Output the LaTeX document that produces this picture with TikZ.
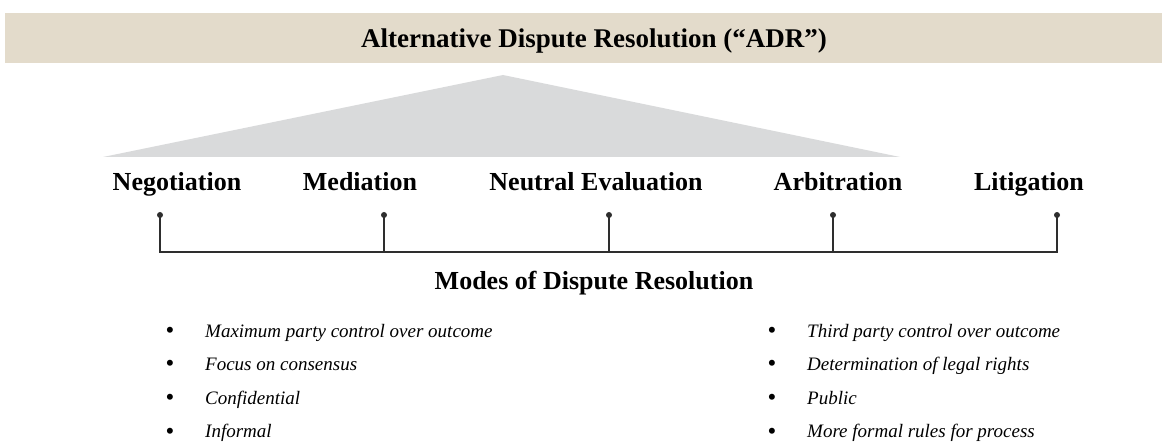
\documentclass[tikz,border=0pt]{standalone}
\usepackage{xcolor}
\usepackage{tikz}
\usepackage{fontspec}
\setmainfont{Liberation Serif}
\definecolor{bannerbg}{HTML}{E3DBCB}
\definecolor{wedgegray}{HTML}{D9DADB}
\definecolor{linegray}{HTML}{2E2E2E}
\tikzset{
  modelabel/.style={anchor=base,font=\fontsize{26}{31}\selectfont\bfseries},
  modedot/.style={circle,fill=linegray,minimum size=6pt},
  bulletmark/.style={anchor=base,font=\fontsize{25}{29}\selectfont},
  bullettext/.style={anchor=base west,font=\fontsize{19}{23}\selectfont\itshape},
  scaleline/.style={draw=linegray,line width=1.3pt}
}
\begin{document}
\begin{tikzpicture}[x=1pt,y=-1pt]
\tikzstyle{every node}+=[inner sep=0pt]
\useasboundingbox (0,0) rectangle (1162,443);
\fill [bannerbg] (5,13) rectangle (1162,63);
\node [anchor=base,font=\fontsize{27}{32}\selectfont\bfseries] (adr) at (594,48) {Alternative Dispute Resolution (“ADR”)};
\fill [wedgegray] (103,157) -- (503,75) -- (900,157) -- cycle;
\node [modelabel] (neg) at (177,191) {Negotiation};
\node [modelabel] (med) at (360,191) {Mediation};
\node [modelabel] (neu) at (596,191) {Neutral Evaluation};
\node [modelabel] (arb) at (838,191) {Arbitration};
\node [modelabel] (lit) at (1029,191) {Litigation};
\node [modedot] (dneg) at (160,215) {};
\node [modedot] (dmed) at (384,215) {};
\node [modedot] (dneu) at (609,215) {};
\node [modedot] (darb) at (833,215) {};
\node [modedot] (dlit) at (1057,215) {};
\coordinate (bneg) at (160,252);
\coordinate (bmed) at (384,252);
\coordinate (bneu) at (609,252);
\coordinate (barb) at (833,252);
\coordinate (blit) at (1057,252);
\draw [scaleline] (dneg.center) -- (bneg) -- (blit) -- (dlit.center);
\draw [scaleline] (dmed.center) -- (bmed);
\draw [scaleline] (dneu.center) -- (bneu);
\draw [scaleline] (darb.center) -- (barb);
\node [modelabel] (modes) at (594,290) {Modes of Dispute Resolution};
% consensual end
\node [bulletmark] (bl1) at (170,339) {•};
\node [bullettext] (tl1) at (205,338) {Maximum party control over outcome};
\node [bulletmark] (bl2) at (170,372) {•};
\node [bullettext] (tl2) at (205,371) {Focus on consensus};
\node [bulletmark] (bl3) at (170,406) {•};
\node [bullettext] (tl3) at (205,405) {Confidential};
\node [bulletmark] (bl4) at (170,439) {•};
\node [bullettext] (tl4) at (205,438) {Informal};
% adjudicative end
\node [bulletmark] (br1) at (772,339) {•};
\node [bullettext] (tr1) at (807,338) {Third party control over outcome};
\node [bulletmark] (br2) at (772,372) {•};
\node [bullettext] (tr2) at (807,371) {Determination of legal rights};
\node [bulletmark] (br3) at (772,406) {•};
\node [bullettext] (tr3) at (807,405) {Public};
\node [bulletmark] (br4) at (772,439) {•};
\node [bullettext] (tr4) at (807,438) {More formal rules for process};
\end{tikzpicture}
\end{document}
